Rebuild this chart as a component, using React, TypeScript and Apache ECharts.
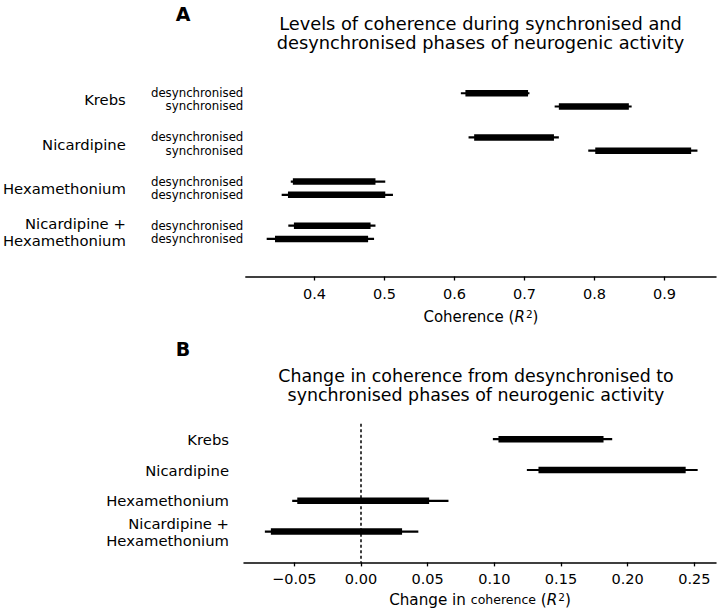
import React, { useEffect, useRef } from "react";
import * as echarts from "echarts";

// ---------- Data ----------
const groupNames = ["Krebs", "Nicardipine", "Hexamethonium", "Nicardipine +\nHexamethonium"];
const phaseLabels = [
  "desynchronised", "synchronised",
  "desynchronised", "synchronised",
  "desynchronised", "desynchronised",
  "desynchronised", "desynchronised",
];

// Panel A: coherence levels (8 rows, 2 per group)
const levelOuterLow = [0.609, 0.743, 0.620, 0.791, 0.366, 0.353, 0.3625, 0.3316];
const levelOuterHigh = [0.707, 0.853, 0.749, 0.947, 0.501, 0.512, 0.487, 0.485];
const levelInnerLow = [0.6155, 0.749, 0.628, 0.801, 0.369, 0.362, 0.3705, 0.3435];
const levelInnerHigh = [0.705, 0.849, 0.742, 0.938, 0.487, 0.501, 0.480, 0.4765];
const levelTicks = [0.4, 0.5, 0.6, 0.7, 0.8, 0.9];

// Panel B: change in coherence (4 rows)
const changeOuterLow = [0.0989, 0.1244, -0.0516, -0.0721];
const changeOuterHigh = [0.1884, 0.2525, 0.0656, 0.0430];
const changeInnerLow = [0.1031, 0.1331, -0.0478, -0.0676];
const changeInnerHigh = [0.1819, 0.2435, 0.0511, 0.0308];
const changeTicks = [-0.05, 0, 0.05, 0.1, 0.15, 0.2, 0.25];

// ---------- Layout helpers ----------
const FONT = "DejaVu Sans";
const rowOffset = 0.15;
const rowPosA = phaseLabels.map((_, i) => Math.floor(i / 2) + (i % 2 === 0 ? -rowOffset : rowOffset));
const groupPosA = groupNames.map((_, i) => i);
const rowPosB = groupNames.map((_, i) => i);

const nearestIndex = (arr: number[], v: number) => {
  let best = 0;
  let bd = Infinity;
  arr.forEach((a, i) => {
    const d = Math.abs(a - v);
    if (d < bd) { bd = d; best = i; }
  });
  return best;
};

const intervalRender = (width: number) => (params: any, api: any) => {
  const y = api.value(2);
  const p1 = api.coord([api.value(0), y]);
  const p2 = api.coord([api.value(1), y]);
  return {
    type: "line",
    shape: { x1: p1[0], y1: p1[1], x2: p2[0], y2: p2[1] },
    style: { stroke: "#000", lineWidth: width },
  };
};

const fmtChange = (v: number) => {
  const s = Math.abs(v).toFixed(2);
  return v < -1e-9 ? "\u2212" + s : s;
};

export default function App() {
  const ref = useRef<HTMLDivElement>(null);

  useEffect(() => {
    document.body.style.margin = "0";
    if (!ref.current) return;
    const chart = echarts.init(ref.current, null, { renderer: "svg" });

    const axisLineStyle = { color: "#000", width: 1.5 };
    const supStyle = { fontFamily: FONT, fontSize: 10.5, color: "#000", verticalAlign: "top", padding: [0, 0, 6, 1] };

    const option: any = {
      animation: false,
      backgroundColor: "#fff",
      textStyle: { fontFamily: FONT, color: "#000" },
      grid: [
        { left: 244, width: 472, top: 55.7, height: 220.8 },
        { left: 244, width: 472, top: 423.8, height: 138.6 },
      ],
      xAxis: [
        {
          type: "value",
          gridIndex: 0,
          min: 0.3018,
          max: 0.9735,
          axisLine: { show: true, onZero: false, lineStyle: axisLineStyle },
          axisTick: { show: true, length: 4, lineStyle: { color: "#000", width: 1.3 }, customValues: levelTicks },
          axisLabel: {
            customValues: levelTicks,
            formatter: (v: number) => v.toFixed(1),
            fontFamily: FONT, fontSize: 14.5, color: "#000", margin: 10,
          },
          splitLine: { show: false },
          name: "{a|Coherence (}{i|R}{s|2}{a|)}",
          nameLocation: "middle",
          nameGap: 32,
          nameTextStyle: {
            rich: {
              a: { fontFamily: FONT, fontSize: 15, color: "#000" },
              i: { fontFamily: FONT, fontSize: 15, fontStyle: "italic", color: "#000" },
              s: supStyle,
            },
          },
        },
        {
          type: "value",
          gridIndex: 1,
          min: -0.08775,
          max: 0.26625,
          axisLine: { show: true, onZero: false, lineStyle: axisLineStyle },
          axisTick: { show: true, length: 4, lineStyle: { color: "#000", width: 1.3 }, customValues: changeTicks },
          axisLabel: {
            customValues: changeTicks,
            formatter: (v: number) => fmtChange(v),
            fontFamily: FONT, fontSize: 14.5, color: "#000", margin: 9,
          },
          splitLine: { show: false },
          name: "{a|Change in }{c|coherence}{a| (}{i|R}{s|2}{a|)}",
          nameLocation: "middle",
          nameGap: 29,
          nameTextStyle: {
            rich: {
              a: { fontFamily: FONT, fontSize: 15.2, color: "#000" },
              c: { fontFamily: FONT, fontSize: 12.5, color: "#000" },
              i: { fontFamily: FONT, fontSize: 15.2, fontStyle: "italic", color: "#000" },
              s: supStyle,
            },
          },
        },
      ],
      yAxis: [
        {
          type: "value",
          gridIndex: 0,
          min: -1,
          max: 4,
          inverse: true,
          axisLine: { show: false },
          axisTick: { show: false },
          splitLine: { show: false },
          axisLabel: {
            customValues: rowPosA,
            formatter: (v: number) => phaseLabels[nearestIndex(rowPosA, v)],
            fontFamily: FONT, fontSize: 11.75, color: "#000", margin: 2.5, align: "right",
          },
        },
        {
          type: "value",
          gridIndex: 0,
          position: "left",
          min: -1,
          max: 4,
          inverse: true,
          axisLine: { show: false },
          axisTick: { show: false },
          splitLine: { show: false },
          axisLabel: {
            customValues: groupPosA,
            formatter: (v: number) => groupNames[nearestIndex(groupPosA, v)],
            fontFamily: FONT, fontSize: 14.8, color: "#000", margin: 120, align: "right", lineHeight: 17,
          },
        },
        {
          type: "value",
          gridIndex: 1,
          min: -0.5,
          max: 4,
          inverse: true,
          axisLine: { show: false },
          axisTick: { show: false },
          splitLine: { show: false },
          axisLabel: {
            customValues: rowPosB,
            formatter: (v: number) => groupNames[nearestIndex(rowPosB, v)],
            fontFamily: FONT, fontSize: 14.8, color: "#000", margin: 15, align: "right", lineHeight: 17,
          },
        },
      ],
      series: [
        {
          type: "custom",
          xAxisIndex: 0,
          yAxisIndex: 0,
          renderItem: intervalRender(2.2),
          encode: { x: [0, 1], y: 2 },
          data: rowPosA.map((y, i) => [levelOuterLow[i], levelOuterHigh[i], y]),
          silent: true,
        },
        {
          type: "custom",
          xAxisIndex: 0,
          yAxisIndex: 0,
          renderItem: intervalRender(6.5),
          encode: { x: [0, 1], y: 2 },
          data: rowPosA.map((y, i) => [levelInnerLow[i], levelInnerHigh[i], y]),
          silent: true,
        },
        {
          type: "custom",
          xAxisIndex: 1,
          yAxisIndex: 2,
          renderItem: intervalRender(2.2),
          encode: { x: [0, 1], y: 2 },
          data: rowPosB.map((y, i) => [changeOuterLow[i], changeOuterHigh[i], y]),
          silent: true,
          markLine: {
            silent: true,
            symbol: ["none", "none"],
            label: { show: false },
            lineStyle: { color: "#000", width: 1.5, type: [3, 2.5] },
            data: [{ xAxis: 0 }],
          },
        },
        {
          type: "custom",
          xAxisIndex: 1,
          yAxisIndex: 2,
          renderItem: intervalRender(6.5),
          encode: { x: [0, 1], y: 2 },
          data: rowPosB.map((y, i) => [changeInnerLow[i], changeInnerHigh[i], y]),
          silent: true,
        },
      ],
      graphic: [
        {
          type: "text", x: 183, y: 14,
          style: { text: "A", font: `bold 19px "${FONT}"`, fill: "#000", textAlign: "center", textVerticalAlign: "middle" },
        },
        {
          type: "text", x: 480.5, y: 33,
          style: {
            text: "Levels of coherence during synchronised and\ndesynchronised phases of neurogenic activity",
            font: `17.8px "${FONT}"`, fill: "#000", textAlign: "center", textVerticalAlign: "middle", lineHeight: 19.5,
          },
        },
        {
          type: "text", x: 183, y: 349,
          style: { text: "B", font: `bold 19px "${FONT}"`, fill: "#000", textAlign: "center", textVerticalAlign: "middle" },
        },
        {
          type: "text", x: 476, y: 385.5,
          style: {
            text: "Change in coherence from desynchronised to\nsynchronised phases of neurogenic activity",
            font: `17.4px "${FONT}"`, fill: "#000", textAlign: "center", textVerticalAlign: "middle", lineHeight: 19.5,
          },
        },
      ],
    };

    chart.setOption(option);
    return () => chart.dispose();
  }, []);

  return <div ref={ref} style={{ width: 720, height: 614 }} />;
}
